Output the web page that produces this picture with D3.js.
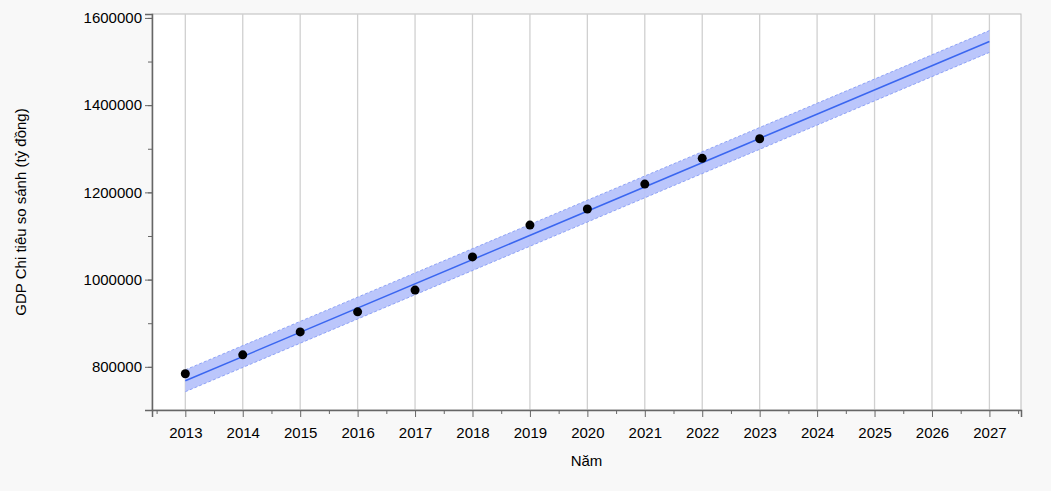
<!DOCTYPE html>
<html><head><meta charset="utf-8">
<script src="https://cdn.jsdelivr.net/npm/d3@7"></script>
<style>body{margin:0;background:#f8f8f8;font-family:"Liberation Sans",Arial,sans-serif}</style>
</head><body><svg id="chart" width="1051" height="491"></svg>
<script>
// observed values
let years = [2013, 2014, 2015, 2016, 2017, 2018, 2019, 2020, 2021, 2022, 2023];
let gdp = [784000, 827500, 880000, 926000, 976000, 1052000, 1125000, 1162000, 1219000, 1278000, 1323000];
// fitted trend line endpoints and confidence band half width
let fitYears = [2013, 2027];
let fitValues = [768000, 1546000];
let bandHalf = [25000, 25000];
let xTicks = d3.range(2013, 2028);
let yTicks = [800000, 1000000, 1200000, 1400000, 1600000];

let svg = d3.select("#chart");
let pLeft = 152, pRight = 1021, pTop = 14, pBottom = 410;

let x = d3.scaleLinear().domain([2012.42, 2027.55]).range([pLeft, pRight]);
let y = d3.scaleLinear().domain([701000, 1609000]).range([pBottom, pTop]);

svg.append("rect").attr("x", pLeft).attr("y", pTop)
  .attr("width", pRight - pLeft).attr("height", pBottom - pTop).attr("fill", "#fff")
  .attr("stroke", "#bbb");

// vertical grid
svg.append("g").selectAll("line").data(xTicks).join("line")
  .attr("x1", d => x(d)).attr("x2", d => x(d))
  .attr("y1", pTop).attr("y2", pBottom)
  .attr("stroke", "#d0d0d0").attr("stroke-width", 1.3);

// band
let fit = fitYears.map((d, i) => ({ x: d, v: fitValues[i], h: bandHalf[i] }));
let area = d3.area().x(d => x(d.x)).y0(d => y(d.v - d.h)).y1(d => y(d.v + d.h));
svg.append("path").datum(fit).attr("d", area).attr("fill", "#b4c0fb").attr("opacity", 0.9);
["+", "-"].forEach(s => {
  svg.append("path").datum(fit)
    .attr("d", d3.line().x(d => x(d.x)).y(d => y(s === "+" ? d.v + d.h : d.v - d.h)))
    .attr("stroke", "#8fa3f7").attr("stroke-dasharray", "3,2").attr("fill", "none");
});
svg.append("path").datum(fit)
  .attr("d", d3.line().x(d => x(d.x)).y(d => y(d.v)))
  .attr("stroke", "#3a66f0").attr("stroke-width", 1.5).attr("fill", "none");

// points
svg.append("g").selectAll("circle").data(years).join("circle")
  .attr("cx", d => x(d)).attr("cy", (d, i) => y(gdp[i])).attr("r", 4.5).attr("fill", "#000");

// axes
let xAxis = svg.append("g").attr("transform", `translate(0,${pBottom})`)
  .call(d3.axisBottom(x).tickValues(xTicks).tickFormat(d3.format("d")).tickSize(7));
svg.append("g").attr("transform", `translate(0,${pBottom})`)
  .call(d3.axisBottom(x).tickValues(d3.range(2012.5, 2027.6, 1)).tickFormat("").tickSize(4))
  .select(".domain").remove();
let yAxis = svg.append("g").attr("transform", `translate(${pLeft},0)`)
  .call(d3.axisLeft(y).tickValues(yTicks).tickFormat(d3.format("d")).tickSize(7));
svg.append("g").attr("transform", `translate(${pLeft},0)`)
  .call(d3.axisLeft(y).tickValues(d3.range(800000, 1600001, 100000)).tickFormat("").tickSize(4))
  .select(".domain").remove();
svg.selectAll(".domain").attr("stroke", "#666").attr("stroke-width", 1.5);
svg.selectAll(".tick line").attr("stroke", "#666");
svg.selectAll(".tick text").attr("font-size", 15).attr("fill", "#000")
  .attr("font-family", '"Liberation Sans",Arial,sans-serif');
xAxis.selectAll(".tick text").attr("dy", "1.2em");

svg.append("text").attr("x", (pLeft + pRight) / 2).attr("y", 466).attr("text-anchor", "middle")
  .attr("font-size", 15).text("Năm");
svg.append("text").attr("transform", `translate(26,${(pTop + pBottom) / 2}) rotate(-90)`)
  .attr("text-anchor", "middle").attr("font-size", 15).text("GDP Chi tiêu so sánh (tỷ đồng)");
</script></body></html>
